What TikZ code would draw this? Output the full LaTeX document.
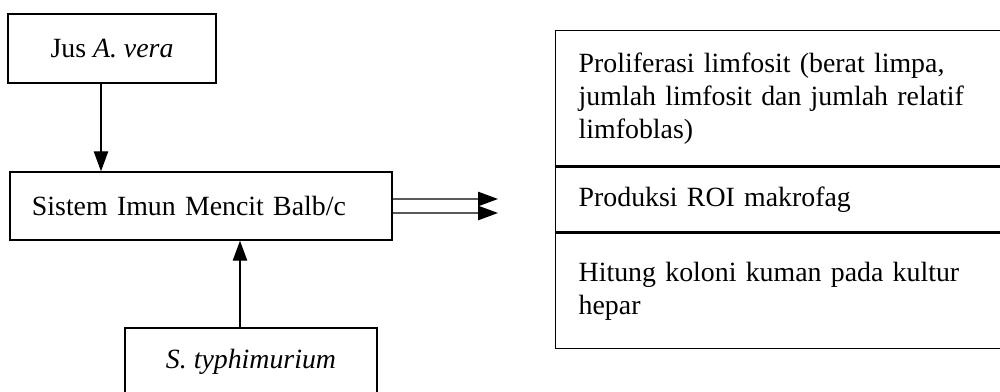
\documentclass[tikz,border=0pt]{standalone}
\usepackage{fontspec}
\setmainfont{Liberation Serif}
\usetikzlibrary{calc, shapes, arrows.meta}

\begin{document}
\begin{tikzpicture}[x=0.025cm, y=-0.025cm,
	every node/.style={font=\fontsize{19.8}{23.5}\selectfont},
	box/.style={draw, line width=1pt, minimum height=1.7cm, inner sep=0pt},
	cell/.style={draw, line width=1pt, text width=10.225cm, inner xsep=0.575cm, inner ysep=0pt, align=left, anchor=north west},
	arr/.style={line width=1pt, -{Triangle[length=0.5cm,width=0.36cm]}}]
				%Frame of the picture
				\clip (0,0) rectangle (1000,392);
				%Inputs on the left
				\node [box, minimum width=5.2cm, minimum height=1.725cm] (jus) at (112,48.5) {Jus \textit{A. vera}};
				\node [box, text width=8.45cm, inner xsep=0.55cm, align=left] (sistem) at (201,206) {Sistem Imun Mencit Balb/c};
				\node [box, minimum width=6.3cm] (typh) at (251,362) {\textit{S. typhimurium}};
				%Arrows into the immune system
				\draw [arr] ([xshift=-0.275cm]jus.south) -- ([xshift=-0.275cm]jus.south |- sistem.north);
				\draw [arr] ([xshift=-0.275cm]typh.north) -- ([xshift=-0.275cm]typh.north |- sistem.south);
				%Table of the results
				\node [cell, minimum height=3.375cm] (cell1) at (555,30) {Proliferasi limfosit (berat limpa,\\ jumlah limfosit dan jumlah relatif\\ limfoblas)};
				\node [cell, minimum height=1.625cm] (cell2) at (cell1.south west) {Produksi ROI makrofag};
				\node [cell, minimum height=2.875cm] (cell3) at (cell2.south west) {Hitung koloni kuman pada kultur\\ hepar};
				%Arrows out of the immune system
				\coordinate (tip1) at (498,199);
				\coordinate (tip2) at (498,213);
				\draw [arr] ([yshift=0.175cm]sistem.east) -- (tip1);
				\draw [arr] ([yshift=-0.175cm]sistem.east) -- (tip2);
				\end{tikzpicture}
\end{document}
